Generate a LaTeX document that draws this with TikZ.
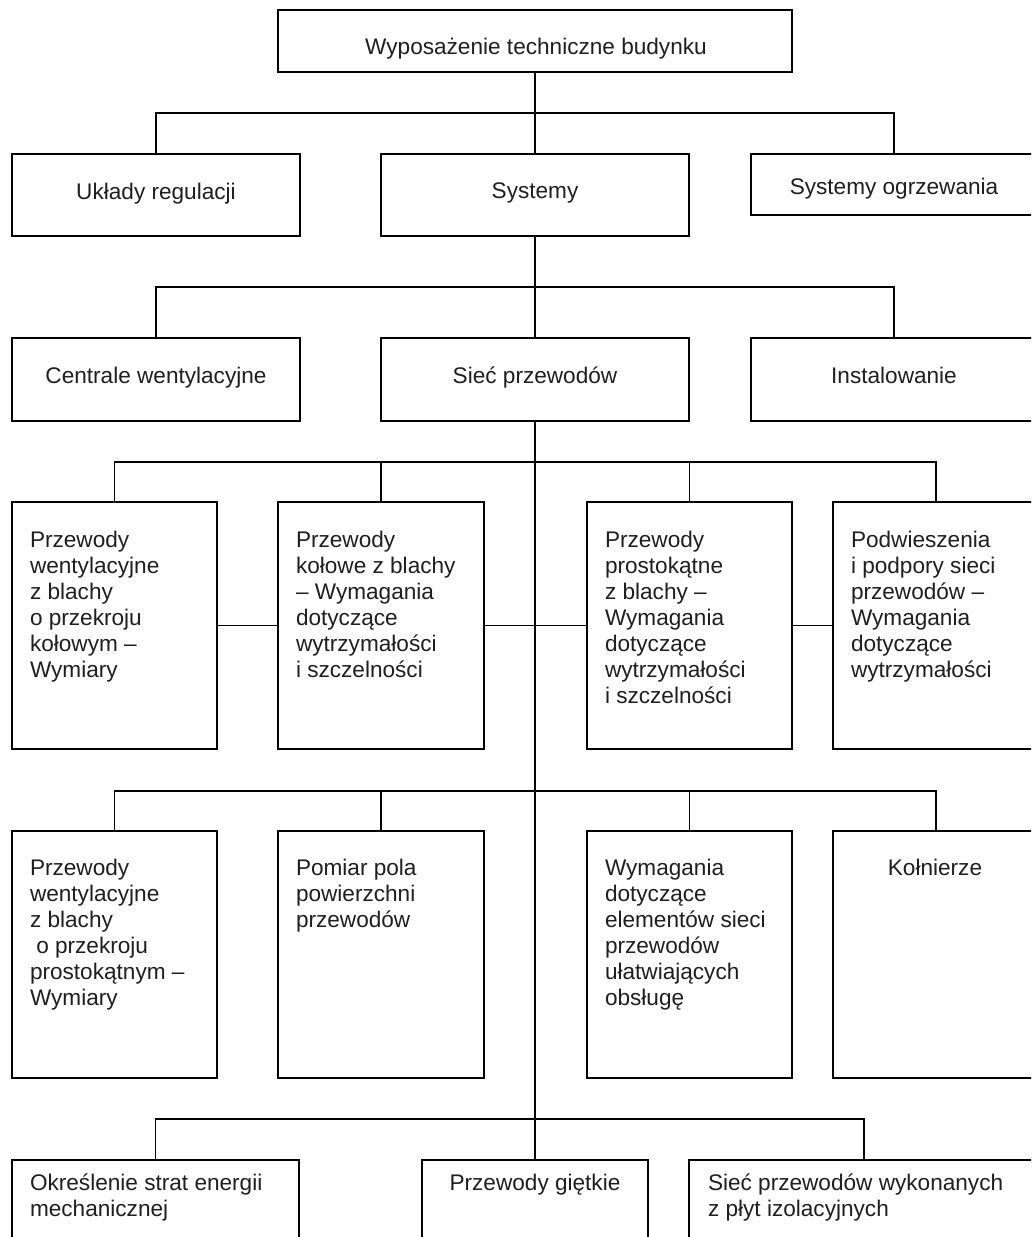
\documentclass[tikz,border=0pt]{standalone}
\usepackage{fontspec}
\setmainfont{Liberation Sans}
\begin{document}
\begin{tikzpicture}[x=1pt,y=-1pt,
  box/.style={draw=black, line width=1.8pt, inner sep=0pt, outer sep=0pt},
  txt/.style={inner sep=0pt, outer sep=0pt, font=\fontsize{22.6}{26}\selectfont, text=black!88},
  mtxt/.style={txt, align=left, anchor=north west},
  stxt/.style={txt, anchor=base},
  conn/.style={line width=1.7pt},
  vconn/.style={line width=1.4pt},
  trunk/.style={line width=2.4pt}]
\useasboundingbox (0,0) rectangle (1031,1237);
\fill[white] (0,0) rectangle (1031,1237);
\clip (0,0) rectangle (1031,1237);

% ---------- boxes ----------
\node[box, minimum width=514pt, minimum height=62pt] (top) at (535,41) {};
\node[box, minimum width=288pt, minimum height=82pt] (L2a) at (156,195) {};
\node[box, minimum width=308pt, minimum height=82pt] (L2b) at (535,195) {};
\node[box, minimum width=286pt, minimum height=61pt] (L2c) at (894,184.5) {};
\node[box, minimum width=288pt, minimum height=83pt] (L3a) at (156,379.5) {};
\node[box, minimum width=308pt, minimum height=83pt] (L3b) at (535,379.5) {};
\node[box, minimum width=286pt, minimum height=83pt] (L3c) at (894,379.5) {};
\node[box, minimum width=205pt, minimum height=247pt] (L4a) at (114.5,625.5) {};
\node[box, minimum width=206pt, minimum height=247pt] (L4b) at (381,625.5) {};
\node[box, minimum width=205pt, minimum height=247pt] (L4c) at (689.5,625.5) {};
\node[box, minimum width=206pt, minimum height=247pt] (L4d) at (936,625.5) {};
\node[box, minimum width=205pt, minimum height=247pt] (L5a) at (114.5,954.5) {};
\node[box, minimum width=206pt, minimum height=247pt] (L5b) at (381,954.5) {};
\node[box, minimum width=205pt, minimum height=247pt] (L5c) at (689.5,954.5) {};
\node[box, minimum width=206pt, minimum height=247pt] (L5d) at (936,954.5) {};
\node[box, minimum width=287pt, minimum height=90pt] (L6a) at (155.5,1205) {};
\node[box, minimum width=226pt, minimum height=90pt] (L6b) at (535,1205) {};
\node[box, minimum width=350pt, minimum height=90pt] (L6c) at (864,1205) {};

% ---------- texts ----------
\node[stxt] (ttop) at (536,54) {Wyposażenie techniczne budynku};
\node[stxt] (t2a) at (156,199) {Układy regulacji};
\node[stxt] (t2b) at (535,198) {Systemy};
\node[stxt] (t2c) at (894,194) {Systemy ogrzewania};
\node[stxt] (t3a) at (156,383) {Centrale wentylacyjne};
\node[stxt] (t3b) at (535,383) {Sieć przewodów};
\node[stxt] (t3c) at (894,383) {Instalowanie};

\node[mtxt] (t4a) at (30,530.8) {Przewody\\wentylacyjne\\z blachy\\o przekroju\\kołowym –\\Wymiary};
\node[mtxt] (t4b) at (296,530.8) {Przewody\\kołowe z blachy\\– Wymagania\\dotyczące\\wytrzymałości\\i szczelności};
\node[mtxt] (t4c) at (605,530.8) {Przewody\\prostokątne\\z blachy –\\Wymagania\\dotyczące\\wytrzymałości\\i szczelności};
\node[mtxt] (t4d) at (851,530.8) {Podwieszenia\\i podpory sieci\\przewodów –\\Wymagania\\dotyczące\\wytrzymałości};

\node[mtxt] (t5a) at (30,858.8) {Przewody\\wentylacyjne\\z blachy\\\hspace*{0.278em}o przekroju\\prostokątnym –\\Wymiary};
\node[mtxt] (t5b) at (296,858.8) {Pomiar pola\\powierzchni\\przewodów};
\node[mtxt] (t5c) at (605,858.8) {Wymagania\\dotyczące\\elementów sieci\\przewodów\\ułatwiających\\obsługę};
\node[stxt] (t5d) at (935,875) {Kołnierze};

\node[mtxt] (t6a) at (30,1173.6) {Określenie strat energii\\mechanicznej};
\node[stxt] (t6b) at (535,1190) {Przewody giętkie};
\node[mtxt] (t6c) at (708,1173.6) {Sieć przewodów wykonanych\\z płyt izolacyjnych};

% ---------- connectors ----------
\coordinate (b1) at (535,113);
\coordinate (b2) at (535,287);
\coordinate (b3) at (535,462);
\coordinate (m4) at (535,626);
\coordinate (b4) at (535,791);
\coordinate (b5) at (535,1119);

\draw[trunk] (top.south) -- (b1);
\draw[conn] (L2a.north) |- (b1) -| (L2c.north);
\draw[vconn] (b1) -- (L2b.north);

\draw[trunk] (L2b.south) -- (b2);
\draw[conn] (L3a.north) |- (b2) -| (L3c.north);
\draw[vconn] (b2) -- (L3b.north);

\draw[trunk] (L3b.south) -- (m4);
\draw[vconn] (m4) -- (b5);
\draw[trunk] (b5) -- (L6b.north);

\draw[conn] (L4a.north) |- (b3) -| (L4d.north);
\draw[vconn] (L4b.north) -- (L4b.north |- b3);
\draw[vconn] (L4c.north) -- (L4c.north |- b3);

\draw[conn] (L4a.east) -- (L4b.west);
\draw[conn] (L4b.east) -- (L4c.west);
\draw[conn] (L4c.east) -- (L4d.west);

\draw[conn] (L5a.north) |- (b4) -| (L5d.north);
\draw[vconn] (L5b.north) -- (L5b.north |- b4);
\draw[vconn] (L5c.north) -- (L5c.north |- b4);

\draw[conn] (L6a.north) |- (b5) -| (L6c.north);
\end{tikzpicture}
\end{document}
